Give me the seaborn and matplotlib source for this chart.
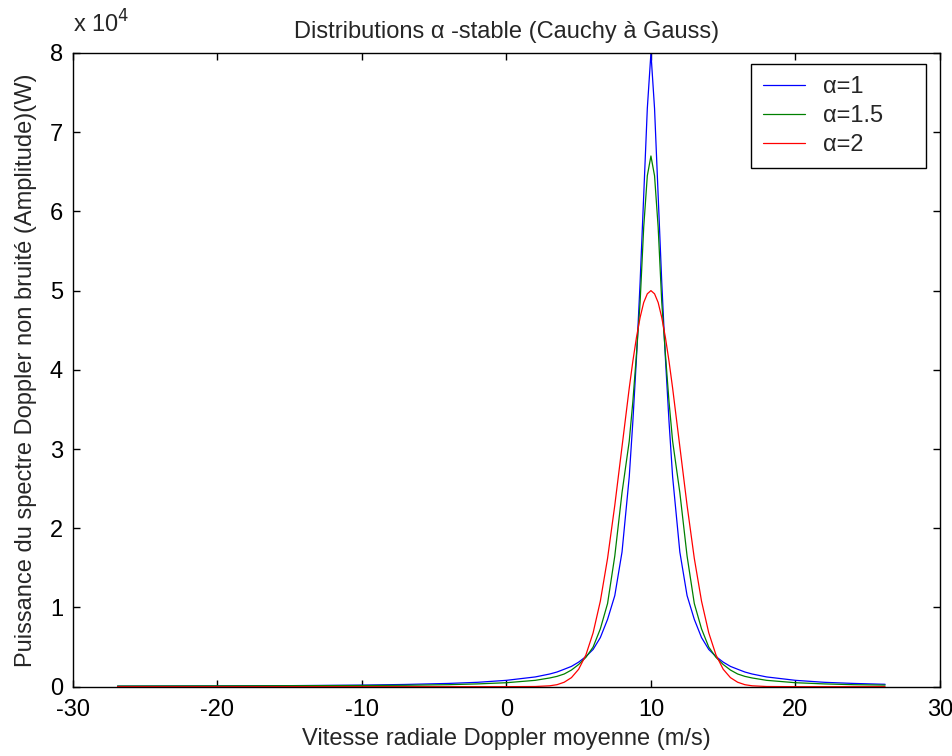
import matplotlib
matplotlib.use("Agg")
import matplotlib.pyplot as plt
import seaborn as sns
import pandas as pd
from matplotlib.ticker import FuncFormatter, MultipleLocator

# x positions (m/s)
x_vals = [-26.9, -20, -15, -10, -7, -4, -2, 0, 2, 3, 3.5, 4, 4.5, 5, 5.5, 6,
          6.5, 7, 7.5, 8, 8.5, 8.75, 9, 9.25, 9.5, 9.75, 10, 10.25, 10.5,
          10.75, 11, 11.25, 11.5, 12, 12.5, 13, 13.5, 14, 14.5, 15, 15.5, 16,
          16.5, 17, 18, 20, 22, 24, 26.2]

# values in units of 1e4 W
alpha1 = [0.006, 0.009, 0.013, 0.02, 0.028, 0.041, 0.055, 0.08, 0.123, 0.16,
          0.185, 0.22, 0.256, 0.31, 0.38, 0.47, 0.62, 0.85, 1.15, 1.7, 2.65,
          3.35, 4.15, 5.1, 6.2, 7.3, 8.0, 7.3, 6.2, 5.1, 4.15, 3.35, 2.65,
          1.7, 1.15, 0.85, 0.62, 0.47, 0.38, 0.31, 0.256, 0.22, 0.185, 0.16,
          0.123, 0.08, 0.055, 0.041, 0.03]
alpha15 = [0.008, 0.01, 0.012, 0.015, 0.018, 0.025, 0.035, 0.05, 0.08, 0.11,
           0.13, 0.16, 0.21, 0.28, 0.37, 0.5, 0.73, 1.05, 1.65, 2.45, 3.1,
           3.6, 4.2, 4.85, 5.8, 6.45, 6.7, 6.45, 5.8, 4.85, 4.2, 3.6, 3.1,
           2.45, 1.65, 1.05, 0.73, 0.5, 0.37, 0.28, 0.21, 0.16, 0.13, 0.11,
           0.08, 0.05, 0.035, 0.025, 0.02]
alpha2 = [0, 0, 0, 0, 0, 0, 0, 0, 0.002, 0.011, 0.025, 0.056, 0.114, 0.22,
          0.40, 0.68, 1.08, 1.62, 2.29, 3.03, 3.77, 4.11, 4.41, 4.66, 4.85,
          4.96, 5.0, 4.96, 4.85, 4.66, 4.41, 4.11, 3.77, 3.03, 2.29, 1.62,
          1.08, 0.68, 0.40, 0.22, 0.114, 0.056, 0.025, 0.011, 0.002, 0, 0,
          0, 0]

labels = ["\u03b1=1", "\u03b1=1.5", "\u03b1=2"]
colors = ["#0000ff", "#008000", "#ff0000"]

rows = []
for lab, ys in zip(labels, [alpha1, alpha15, alpha2]):
    for xv, yv in zip(x_vals, ys):
        rows.append({"x": xv, "y": yv * 1e4, "serie": lab})
df = pd.DataFrame(rows)

sns.set_style("ticks")
plt.rcParams["font.family"] = ["Liberation Sans", "DejaVu Sans"]
plt.rcParams["axes.unicode_minus"] = False
FS = 17

fig = plt.figure(figsize=(9.53, 7.56), dpi=100)
ax = fig.add_axes([0.0763, 0.0917, 0.9101, 0.8382])

sns.lineplot(data=df, x="x", y="y", hue="serie", palette=colors,
             hue_order=labels, linewidth=0.9, ax=ax, estimator=None,
             sort=False)

ax.set_xlim(-30, 30)
ax.set_ylim(0, 8e4)
ax.xaxis.set_major_locator(MultipleLocator(10))
ax.yaxis.set_major_locator(MultipleLocator(1e4))
ax.yaxis.set_major_formatter(FuncFormatter(lambda v, p: f"{v/1e4:g}"))
ax.tick_params(direction="in", length=5, width=1, top=True, right=True,
               labelsize=FS, colors="black")
ax.tick_params(axis="x", pad=9)
ax.tick_params(axis="y", pad=7)
for s in ax.spines.values():
    s.set_visible(True)
    s.set_linewidth(1.0)
    s.set_color("black")

ax.set_title("Distributions \u03b1 -stable (Cauchy \u00e0 Gauss)", fontsize=FS,
             pad=11)
ax.set_xlabel("Vitesse radiale Doppler moyenne (m/s)", fontsize=FS,
              labelpad=5)
ax.set_ylabel("Puissance du spectre Doppler non bruit\u00e9 (Amplitude)(W)",
              fontsize=FS, labelpad=9)
ax.annotate("x 10$^4$", xy=(0, 1), xycoords="axes fraction",
            xytext=(0, 15), textcoords="offset points", fontsize=FS,
            ha="left", va="baseline")

leg = ax.legend(loc="upper left", bbox_to_anchor=(0.782, 0.820, 0.2018, 0.1626),
                mode="expand", borderaxespad=0, fontsize=FS, frameon=True,
                fancybox=False, edgecolor="black", framealpha=1,
                handlelength=1.8, handletextpad=0.75, borderpad=0.5,
                labelspacing=0.3)
leg.get_frame().set_linewidth(1.0)

fig.savefig("out.png", dpi=100, facecolor="white")
